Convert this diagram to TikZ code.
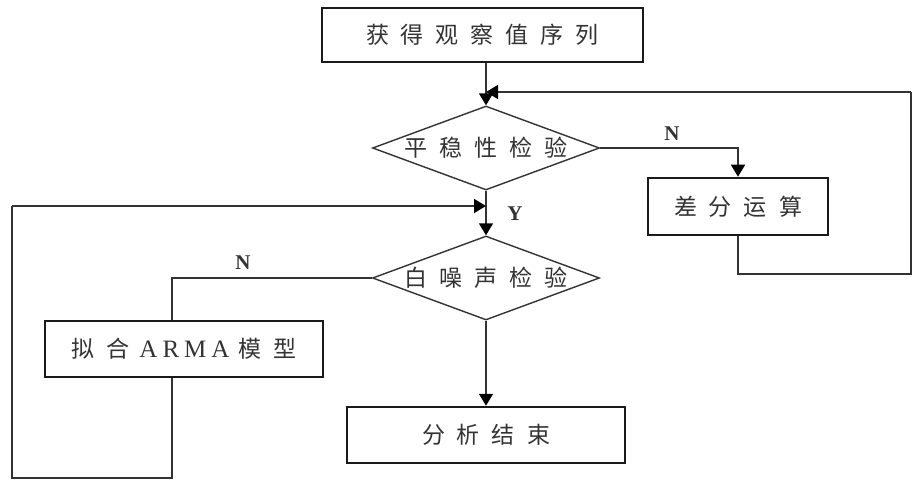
\documentclass[tikz,border=0pt]{standalone}
\usepackage{fontspec}
\setmainfont{Liberation Serif}
\newfontfamily\cjk{Noto Sans CJK SC}
\usetikzlibrary{shapes.geometric,arrows.meta}
\newcommand\gp{\hspace{12pt}}
\definecolor{linec}{HTML}{333333}
\definecolor{boxc}{HTML}{1A1A1A}
\definecolor{txtc}{HTML}{333333}
\tikzset{
  procbox/.style={draw=boxc, line width=2.5pt, rectangle, inner sep=0pt, text=txtc,
    font=\cjk\fontsize{23pt}{26pt}\selectfont},
  decide/.style={draw=linec, line width=1.4pt, diamond, aspect=2.7, inner sep=0pt,
    minimum width=227pt, minimum height=84pt, text=txtc,
    font=\cjk\fontsize{23pt}{26pt}\selectfont},
  conn/.style={draw=linec, line width=1.6pt},
  arr/.style={conn, -{Triangle[width=14pt,length=12pt,fill=black,color=black]}},
  yn/.style={font=\bfseries\fontsize{21pt}{24pt}\selectfont, text=txtc, inner sep=0pt}
}
\begin{document}
\begin{tikzpicture}[x=1pt,y=-1pt]
\useasboundingbox[fill=white] (0,0) rectangle (921,486);
% nodes
\node[procbox, minimum width=321pt, minimum height=54pt] (obs) at (482.5,35) {获\gp 得\gp 观\gp 察\gp 值\gp 序\gp 列};
\node[decide] (stat) at (486,148) {平\gp 稳\gp 性\gp 检\gp 验};
\node[procbox, minimum width=180pt, minimum height=57pt] (diff) at (738,206.5) {差\gp 分\gp 运\gp 算};
\node[decide] (wn) at (486,278) {白\gp 噪\gp 声\gp 检\gp 验};
\node[procbox, minimum width=278pt, minimum height=56pt] (arma) at (184,349) {拟\gp 合\hspace{10pt}{\fontspec{Liberation Serif}\fontsize{25pt}{26pt}\selectfont A\hspace{5pt}R\hspace{5pt}M\hspace{5pt}A}\hspace{9pt}模\gp 型};
\node[procbox, minimum width=278pt, minimum height=56pt] (fin) at (486,435) {分\gp 析\gp 结\gp 束};
% labels
\node[yn] (n1) at (672,134) {N};
\node[yn] (y1) at (515,214) {Y};
\node[yn] (n2) at (243,263) {N};
% helper coordinates
\coordinate (j1) at (486,92);
\coordinate (r1) at (911,274);
\coordinate (r2) at (911,92);
\coordinate (j2) at (486,206);
\coordinate (ax) at (172,0);
\coordinate (l1) at (12,478);
\coordinate (l2) at (12,206);
% connectors
\draw[arr] (obs.south -| stat.north) -- (stat.north);
\draw[arr] (stat.east) -| (diff.north);
\draw[conn] (diff.south) |- (r1) -- (r2);
\draw[arr] (r2) -- (j1);
\draw[arr] (stat.south) -- (wn.north);
\draw[conn] (wn.west) -| (ax |- arma.north);
\draw[conn] (ax |- arma.south) |- (l1) -- (l2);
\draw[arr] (l2) -- (j2);
\draw[arr] (wn.south) -- (fin.north);
\end{tikzpicture}
\end{document}
